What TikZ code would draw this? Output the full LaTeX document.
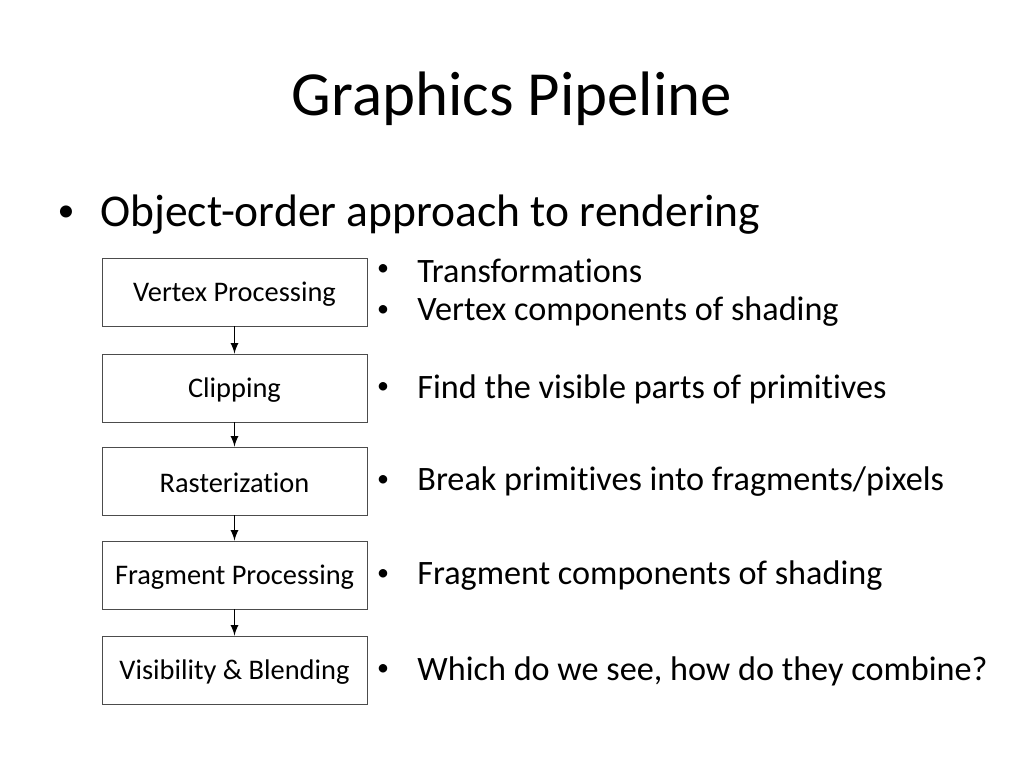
\documentclass[tikz,border=0pt]{standalone}
\usepackage{fontspec}
\setmainfont{Carlito}[Ligatures=NoCommon]
\usetikzlibrary{positioning}
\begin{document}
\begin{tikzpicture}[x=0.5pt,y=-0.5pt,
            stage/.style={draw=black!70, fill=white, minimum width=132.5pt, minimum height=34pt, inner sep=0pt, font=\fontsize{14.2}{16}\selectfont},
            note/.style={anchor=west, inner sep=0pt, font=\fontsize{17.1}{20}\selectfont},
            dot/.style={anchor=center, inner sep=0pt, font=\fontsize{12}{14}\selectfont},
            flow/.style={draw=black, thick, -latex}]
            \useasboundingbox (0,0) rectangle (1024,768);
            \node (title) at (512,99){\fontsize{31.4}{36}\selectfont Graphics Pipeline};
            \node[dot, font=\fontsize{17}{20}\selectfont] (b0) at (66,214){•};
            \node[anchor=west, inner sep=0pt, font=\fontsize{22.75}{27}\selectfont] (main) at (100,215){Object-order approach to rendering};
            \node[stage] (s1) at (234.5,292){};
            \node[stage] (s2) at (234.5,388){};
            \node[stage] (s3) at (234.5,481){};
            \node[stage] (s4) at (234.5,575){};
            \node[stage] (s5) at (234.5,670){};
            \node[stage, draw=none, fill=none] at (234.5,294){Vertex Processing};
            \node[stage, draw=none, fill=none] at (234.5,390){Clipping};
            \node[stage, draw=none, fill=none] at (234.5,483){Rasterization};
            \node[stage, draw=none, fill=none] at (234.5,577){Fragment Processing};
            \node[stage, draw=none, fill=none] at (234.5,672){Visibility \& Blending};
            \draw[flow] (s1) -- (s2);
            \draw[flow] (s2) -- (s3);
            \draw[flow] (s3) -- (s4);
            \draw[flow] (s4) -- (s5);
            \node[dot] (d1a) at (383,270){•};
            \node[note] (n1a) at (417,271){Transformations};
            \node[dot] (d1b) at (383,311){•};
            \node[note] (n1b) at (417,312){Vertex components of shading};
            \node[dot] (d2) at (383,388){•};
            \node[note] (n2) at (417,389){Find the visible parts of primitives};
            \node[dot] (d3) at (383,481){•};
            \node[note] (n3) at (417,482){Break primitives into fragments/pixels};
            \node[dot] (d4) at (383,575){•};
            \node[note] (n4) at (417,576){Fragment components of shading};
            \node[dot] (d5) at (383,670){•};
            \node[note] (n5) at (417,671){Which do we see, how do they combine?};
        \end{tikzpicture}
\end{document}
